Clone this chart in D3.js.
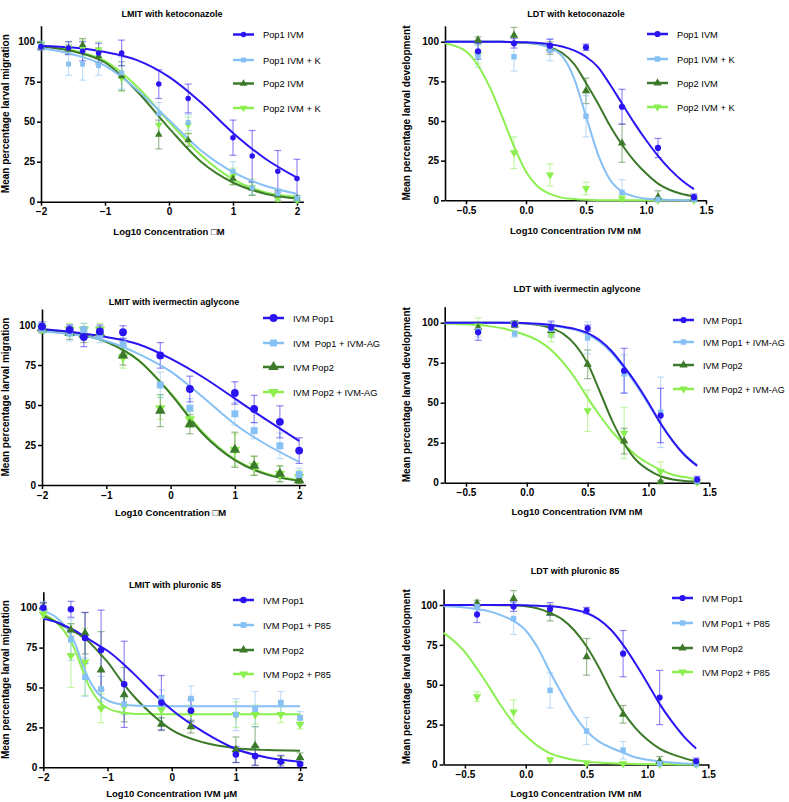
<!DOCTYPE html>
<html><head><meta charset="utf-8">
<script src="https://cdn.jsdelivr.net/npm/d3@7"></script>
<style>
body{margin:0;background:#fff}
svg{display:block}
text{font-family:"Liberation Sans",Arial,Helvetica,sans-serif}
</style>
</head><body>
<svg id="c" width="789" height="802"></svg>
<script>
// ---------- data ----------
const lmitDose = [-2, -1.57, -1.35, -1.1, -0.74, -0.16, 0.3, 1, 1.3, 1.7, 2];
const ldtDose = [-0.4, -0.1, 0.2, 0.5, 0.8, 1.1, 1.4];
const lmitGrid = [-2, -1.5, -1, -0.5, 0, 0.5, 1, 1.5, 2];
const lmitGridFine = [-2, -1.8, -1.6, -1.5, -1.4, -1.3, -1.2, -1.1, -1, -0.8, -0.6, -0.3, 0, 0.5, 1, 1.5, 2];
const ldtGrid = [-0.675, -0.6, -0.5, -0.4, -0.3, -0.2, -0.1, 0, 0.1, 0.2, 0.3, 0.4, 0.5, 0.6, 0.7, 0.8, 0.9, 1.0, 1.1, 1.2, 1.3, 1.4];
const lmitTicks = [-2, -1, 0, 1, 2];
const ldtTicks = [-0.5, 0, 0.5, 1, 1.5];
const yTicks = [0, 25, 50, 75, 100];

const titles = ['LMIT with ketoconazole', 'LDT with ketoconazole', 'LMIT with ivermectin aglycone',
  'LDT with ivermectin aglycone', 'LMIT with pluronic 85', 'LDT with pluronic 85'];
const xLabels = ['Log10 Concentration \u25A1M', 'Log10 Concentration IVM nM', 'Log10 Concentration \u25A1M',
  'Log10 Concentration IVM nM', 'Log10 Concentration IVM \u03BCM', 'Log10 Concentration IVM nM'];
const yLabelLMIT = 'Mean percentage larval migration';
const yLabelLDT = 'Mean percentage larval development';
const namesKeto = ['Pop1 IVM', 'Pop1 IVM + K', 'Pop2 IVM', 'Pop2 IVM + K'];
const namesAgLmit = ['IVM Pop1', 'IVM  Pop1 + IVM-AG', 'IVM Pop2', 'IVM Pop2 + IVM-AG'];
const namesAgLdt = ['IVM Pop1', 'IVM Pop1 + IVM-AG', 'IVM Pop2', 'IVM Pop2 + IVM-AG'];
const namesP85 = ['IVM Pop1', 'IVM Pop1 + P85', 'IVM Pop2', 'IVM Pop2 + P85'];

// Panel A: LMIT ketoconazole
const A_pop1 = [97, 96, 94, 93, 93, 73.5, 64.5, 40, 28.5, 19, 14.5];
const A_pop1Err = [2, 4, 6, 6, 8, 9, 9, 11, 16, 13, 12];
const A_pop1K = [97.5, 86, 86, 85, 80.5, 55, 49.5, 19, 8.5, 5, 2];
const A_pop1KErr = [3, 7, 10, 6, 10, 7, 5, 6, 4, 3, 2];
const A_pop2 = [97, 95, 98, 91, 78.5, 42, 38.5, 14.5, 8, 4, 2];
const A_pop2Err = [2, 3, 4, 5, 9, 9, 4, 4, 4, 3, 2];
const A_pop2K = [98, 96, 96, 95, 77, 48, 48, 16, 9, 2, 1];
const A_pop2KErr = [2, 4, 5, 5, 8, 6, 5, 5, 5, 3, 2];
const A_pop1Fit = [97.5, 96.3, 93.5, 88.5, 78, 62, 43, 27, 15];
const A_pop1KFit = [96, 92, 85, 70, 51, 32, 18.5, 10, 5];
const A_pop2Fit = [97, 94, 87, 69, 46, 25, 12, 5, 2];
const A_pop2KFit = [97, 94.5, 88, 72, 50, 29, 14, 6, 3];

// Panel B: LDT ketoconazole
const B_pop1 = [94, 99, 97.5, 96.5, 59, 33, 2];
const B_pop1Err = [5, 3, 4, 2, 11, 6, 2];
const B_pop1K = [91, 90.5, 95, 53, 5, 0.5, 0.5];
const B_pop1KErr = [7, 9, 7, 13, 8, 1, 1];
const B_pop2 = [101, 104, 96, 69, 36, 2, 1];
const B_pop2Err = [2, 5, 4, 8, 12, 4, 2];
const B_pop2K = [92, 30, 16, 7.5, 1, 0, 0];
const B_pop2KErr = [6, 10, 7, 4, 2, 1, 1];
const B_pop1Fit = [100, 100, 100, 100, 100, 99.9, 99.8, 99.6, 99.2, 98.4, 97, 94.5, 90.5, 84, 73, 61, 49, 38, 28, 19.5, 12.5, 7];
const B_pop1KFit = [100, 100, 100, 100, 100, 100, 99.8, 99.5, 98.5, 96, 91, 77, 53, 29, 13, 5.5, 2.5, 1, 0.5, 0.2, 0.1, 0];
const B_pop2Fit = [100, 100, 100, 100, 100, 99.9, 99.7, 99.3, 98.5, 96.5, 93, 86, 74, 61, 47, 35, 25, 17, 10.5, 6.5, 4, 2.5];
const B_pop2KFit = [99, 97.5, 94, 85, 71, 53, 34, 18, 8.5, 4, 1.7, 0.8, 0.3, 0.1, 0.1, 0, 0, 0, 0, 0, 0, 0];

// Panel C: LMIT ivermectin aglycone
const C_pop1 = [99, 97, 92.5, 96, 95.5, 81, 60, 57.5, 47.5, 39.5, 21.5];
const C_pop1Err = [3, 3, 6, 4, 4, 8, 8, 7, 8.5, 10, 8];
const C_pop1AG = [98, 95, 97, 94, 88, 62.5, 48, 44.5, 34, 24.5, 6.5];
const C_pop1AGErr = [3, 5, 4, 5, 4, 8, 6, 7, 5, 8, 4];
const C_pop2 = [98, 95, 94, 95, 81, 46.5, 38, 22, 12, 7, 3];
const C_pop2Err = [3, 4, 5, 4, 6, 10, 6, 11, 6, 5, 2];
const C_pop2AG = [98, 97, 97, 97, 80, 48, 41, 22, 12, 7, 5];
const C_pop2AGErr = [3, 4, 4, 4, 7, 7, 5, 10, 6, 5, 4];
const C_pop1Fit = [97.5, 95.5, 92.5, 88, 79, 67.5, 54, 40.5, 27.5];
const C_pop1AGFit = [96, 94, 90, 82, 71, 55, 38, 25, 14.5];
const C_pop2Fit = [97, 95, 89.5, 78, 57, 32, 15.5, 6.5, 2.7];
const C_pop2AGFit = [96.5, 94.5, 89.5, 78, 57.5, 33, 16, 7, 3];

// Panel D: LDT ivermectin aglycone
const D_pop1 = [94, 99, 97, 96.5, 70, 42, 2];
const D_pop1Err = [5, 2, 4, 2, 14, 17, 2];
const D_pop1AG = [95, 93, 96, 90.5, 68, 44, 1];
const D_pop1AGErr = [4, 2, 4, 10, 12, 22, 2];
const D_pop2 = [97, 99, 95, 74, 26, 0.5, 0.5];
const D_pop2Err = [3, 2, 4, 9, 8, 1, 1];
const D_pop2AG = [98, 99, 93, 45, 31, 7, 0.5];
const D_pop2AGErr = [5, 2, 5, 13, 16, 6, 1];
const D_pop1Fit = [100, 100, 100, 100, 100, 100, 99.9, 99.7, 99.3, 98.5, 97.5, 96, 93.5, 89, 82, 72.5, 62, 50, 37, 26, 17, 10.5];
const D_pop1AGFit = [100, 100, 100, 100, 100, 100, 99.9, 99.6, 99.1, 98.2, 97, 95.5, 92.5, 88, 81, 71.5, 61, 49, 37, 26, 17.5, 11];
const D_pop2Fit = [100, 100, 100, 100, 100, 99.9, 99.8, 99.5, 98.5, 96.5, 93, 86, 74.5, 57, 39, 24.5, 14, 8, 4, 2, 1, 0.6];
const D_pop2AGFit = [99.5, 99.3, 99, 98.5, 97.7, 96.5, 94.5, 92, 88.5, 83, 75, 65, 53, 42, 32, 24, 17, 12, 8, 5, 3.5, 2];

// Panel E: LMIT pluronic 85
const E_pop1 = [100, 99, 81, 73.5, 52, 40.5, 35.5, 8, 7, 3.5, 2];
const E_pop1Err = [3, 5, 16, 25, 27, 17, 7, 5, 6, 4, 1];
const E_pop1P = [100, 80, 56.5, 49, 39.5, 43.5, 43, 33, 36.5, 40.5, 31];
const E_pop1PErr = [4, 13, 12, 8, 6, 5, 8, 10, 11, 7, 4];
const E_pop2 = [100, 86, 84, 61, 45.5, 27, 25.5, 11, 13.5, 4, 6];
const E_pop2Err = [3, 4, 13, 24, 17, 4, 4, 8, 12, 3, 3];
const E_pop2P = [96, 70, 66, 37, 38, 36, 34, 33, 33, 33, 27];
const E_pop2PErr = [3, 20, 21, 9, 5, 5, 5, 8, 6, 5, 3];
const E_pop1Fit = [93, 91, 87.5, 85.5, 83, 80.5, 78, 75.5, 73, 66.5, 59, 47, 36, 22, 11.5, 6, 3.5];
const E_pop1PFit = [98, 94, 85, 77, 66, 56, 49, 44.5, 42, 39.5, 38.7, 38.4, 38.3, 38.3, 38.3, 38.3, 38.3];
const E_pop2Fit = [95, 91, 86.5, 84.5, 82, 79, 75, 70.5, 66, 55, 45, 33, 23.5, 15.5, 12, 10.8, 10.4];
const E_pop2PFit = [96, 91, 81, 73, 62, 52, 45, 40, 37, 34.5, 33.6, 33.3, 33.2, 33.2, 33.2, 33.2, 33.2];

// Panel F: LDT pluronic 85
const F_pop1 = [94, 99, 97.5, 96.5, 69.5, 42, 2];
const F_pop1Err = [5, 3, 4, 2, 14.5, 17, 2];
const F_pop1P = [99, 91.5, 46.5, 21, 9, 0.5, 0];
const F_pop1PErr = [3, 10, 11, 8.5, 5.5, 1, 1];
const F_pop2 = [101, 104, 95, 67.5, 31.5, 2, 1];
const F_pop2Err = [2, 5, 5, 11.5, 5.5, 3, 2];
const F_pop2P = [42.5, 33, 3, 1, 0.5, 0, 0];
const F_pop2PErr = [3, 7.5, 1, 1, 1, 0.5, 0.5];
const F_pop1Fit = [100, 100, 100, 100, 100, 100, 100, 99.8, 99.6, 99.2, 98.4, 97, 95, 91, 84.5, 75, 63.5, 51, 38, 27, 17.5, 10];
const F_pop1PFit = [99.3, 99, 98.5, 97.5, 96, 93.5, 90, 84, 73, 58, 44, 31, 21, 14.5, 10.5, 7.5, 4.5, 3, 2, 1.2, 0.7, 0.4];
const F_pop2Fit = [100, 100, 100, 100, 100, 99.9, 99.7, 99.2, 97.8, 95, 91, 84, 74, 61, 46, 33, 23, 15.5, 10, 6.5, 4, 2];
const F_pop2PFit = [82.5, 78, 70.5, 60, 48.5, 36.5, 26, 18, 11.5, 7, 4.5, 2.8, 1.8, 1.2, 0.8, 0.5, 0.3, 0.2, 0.1, 0.1, 0, 0];

// ---------- styles / layout ----------
const colors = ['#2B14F2', '#86C0F5', '#3C7A2A', '#8BEF4F'];
const symbols = [d3.symbolCircle, d3.symbolSquare, d3.symbolTriangle, d3.symbolTriangle];
const rotations = [0, 0, 0, 180];

const panels = [
  {title: titles[0], xLabel: xLabels[0], yLabel: yLabelLMIT, ticks: lmitTicks, fmt: d3.format('d'), dose: lmitDose, grid: lmitGrid,
   names: namesKeto, means: [A_pop1, A_pop1K, A_pop2, A_pop2K], errs: [A_pop1Err, A_pop1KErr, A_pop2Err, A_pop2KErr],
   fits: [A_pop1Fit, A_pop1KFit, A_pop2Fit, A_pop2KFit],
   xd: [-2, 2.1], xr: [41, 303.4], y0: 201.7, y100: 41.7, titleX: 172, titleY: 16.5, xLabY: 234.5, yLabX: 9,
   legX: 233, legRows: [34.5, 60, 83.5, 108], msize: 24, legW: 2.5, legFont: 9.3},
  {title: titles[1], xLabel: xLabels[1], yLabel: yLabelLDT, ticks: ldtTicks, fmt: d3.format('.1f'), dose: ldtDose, grid: ldtGrid,
   names: namesKeto, means: [B_pop1, B_pop1K, B_pop2, B_pop2K], errs: [B_pop1Err, B_pop1KErr, B_pop2Err, B_pop2KErr],
   fits: [B_pop1Fit, B_pop1KFit, B_pop2Fit, B_pop2KFit],
   xd: [-0.675, 1.5], xr: [445, 706], y0: 200.3, y100: 41.7, titleX: 576, titleY: 16.5, xLabY: 233.5, yLabX: 409.5,
   legX: 647, legRows: [34, 59, 83, 107], msize: 30, legW: 2.5, legFont: 9.3},
  {title: titles[2], xLabel: xLabels[2], yLabel: yLabelLMIT, ticks: lmitTicks, fmt: d3.format('d'), dose: lmitDose, grid: lmitGrid,
   names: namesAgLmit, means: [C_pop1, C_pop1AG, C_pop2, C_pop2AG], errs: [C_pop1Err, C_pop1AGErr, C_pop2Err, C_pop2AGErr],
   fits: [C_pop1Fit, C_pop1AGFit, C_pop2Fit, C_pop2AGFit],
   xd: [-2, 2.1], xr: [42, 305.6], y0: 485, y100: 325, titleX: 174, titleY: 305, xLabY: 515.5, yLabX: 9,
   legX: 263, legRows: [318, 343, 367, 392], msize: 48, legW: 2.5, legFont: 9.3},
  {title: titles[3], xLabel: xLabels[3], yLabel: yLabelLDT, ticks: ldtTicks, fmt: d3.format('.1f'), dose: ldtDose, grid: ldtGrid,
   names: namesAgLdt, means: [D_pop1, D_pop1AG, D_pop2, D_pop2AG], errs: [D_pop1Err, D_pop1AGErr, D_pop2Err, D_pop2AGErr],
   fits: [D_pop1Fit, D_pop1AGFit, D_pop2Fit, D_pop2AGFit],
   xd: [-0.675, 1.5], xr: [444.7, 709.3], y0: 482.7, y100: 322.7, titleX: 577, titleY: 291.5, xLabY: 514.5, yLabX: 409.5,
   legX: 673, legRows: [320, 342, 365, 389], msize: 30, legW: 2.5, legFont: 9},
  {title: titles[4], xLabel: xLabels[4], yLabel: yLabelLMIT, ticks: lmitTicks, fmt: d3.format('d'), dose: lmitDose, grid: lmitGridFine,
   names: namesP85, means: [E_pop1, E_pop1P, E_pop2, E_pop2P], errs: [E_pop1Err, E_pop1PErr, E_pop2Err, E_pop2PErr],
   fits: [E_pop1Fit, E_pop1PFit, E_pop2Fit, E_pop2PFit],
   xd: [-2, 2.1], xr: [43.3, 306.5], y0: 767.3, y100: 607.7, titleX: 175, titleY: 587.5, xLabY: 796.5, yLabX: 9,
   legX: 233, legRows: [600, 625, 650, 674], msize: 34, legW: 2.5, legFont: 9.3},
  {title: titles[5], xLabel: xLabels[5], yLabel: yLabelLDT, ticks: ldtTicks, fmt: d3.format('.1f'), dose: ldtDose, grid: ldtGrid,
   names: namesP85, means: [F_pop1, F_pop1P, F_pop2, F_pop2P], errs: [F_pop1Err, F_pop1PErr, F_pop2Err, F_pop2PErr],
   fits: [F_pop1Fit, F_pop1PFit, F_pop2Fit, F_pop2PFit],
   xd: [-0.675, 1.5], xr: [443.6, 708.3], y0: 764.5, y100: 605, titleX: 575, titleY: 573.5, xLabY: 796.5, yLabX: 409.5,
   legX: 672, legRows: [598, 623, 648, 672], msize: 30, legW: 2.5, legFont: 9.3}
];

const svg = d3.select('#c');

function symPath(i, size) {
  return d3.symbol().type(symbols[i]).size(size)();
}

panels.forEach(p => {
  const g = svg.append('g');
  const x = d3.scaleLinear().domain(p.xd).range(p.xr);
  const yTopPx = p.y0 - 1.1 * (p.y0 - p.y100);
  const y = d3.scaleLinear().domain([0, 110]).range([p.y0, yTopPx]);

  // axes
  const xAxis = d3.axisBottom(x).tickValues(p.ticks).tickFormat(p.fmt).tickSize(4).tickSizeOuter(0);
  const yAxis = d3.axisLeft(y).tickValues(yTicks).tickSize(4).tickSizeOuter(0);
  const gx = g.append('g').attr('transform', `translate(0,${p.y0})`).call(xAxis);
  const gy = g.append('g').attr('transform', `translate(${p.xr[0]},0)`).call(yAxis);
  [gx, gy].forEach(a => {
    a.select('.domain').attr('stroke', '#000').attr('stroke-width', 1.6);
    a.selectAll('.tick line').attr('stroke', '#000').attr('stroke-width', 1.5);
    a.selectAll('.tick text').attr('fill', '#000').style('font-size', '10px').style('font-weight', 'bold')
      .style('font-family', '"Liberation Sans",Arial,sans-serif');
  });
  gx.selectAll('.tick text').attr('dy', '0.85em').attr('y', 5);
  gy.selectAll('.tick text').attr('x', -6);

  // titles and labels
  g.append('text').attr('x', p.titleX).attr('y', p.titleY).attr('text-anchor', 'middle')
    .style('font-size', '9px').style('font-weight', 'bold').text(p.title);
  g.append('text').attr('x', (p.xr[0] + x(p.ticks[p.ticks.length - 1])) / 2).attr('y', p.xLabY).attr('text-anchor', 'middle')
    .style('font-size', '9.5px').style('font-weight', 'bold').text(p.xLabel);
  g.append('text').attr('transform', `translate(${p.yLabX},${(p.y0 + yTopPx) / 2}) rotate(-90)`).attr('text-anchor', 'middle')
    .style('font-size', '10px').style('font-weight', 'bold').text(p.yLabel);

  const line = d3.line().x((d, i) => x(p.grid[i])).y(d => y(d)).curve(d3.curveMonotoneX);

  const order = [3, 2, 1, 0];
  // error bars
  order.forEach(s => {
    const eg = g.append('g').attr('stroke', colors[s]).attr('stroke-opacity', 0.5).attr('stroke-width', 1.2).attr('fill', 'none');
    p.means[s].forEach((m, i) => {
      const e = p.errs[s][i];
      const cx = x(p.dose[i]);
      const lo = y(Math.max(0, m - e)), hi = y(m + e);
      eg.append('line').attr('x1', cx).attr('x2', cx).attr('y1', lo).attr('y2', hi);
      eg.append('line').attr('x1', cx - 3.5).attr('x2', cx + 3.5).attr('y1', lo).attr('y2', lo);
      eg.append('line').attr('x1', cx - 3.5).attr('x2', cx + 3.5).attr('y1', hi).attr('y2', hi);
    });
  });
  // fitted curves
  order.forEach(s => {
    g.append('path').datum(p.fits[s]).attr('d', line).attr('fill', 'none')
      .attr('stroke', colors[s]).attr('stroke-width', 2);
  });
  // markers
  order.forEach(s => {
    g.append('g').selectAll('path').data(p.means[s]).join('path')
      .attr('d', symPath(s, p.msize))
      .attr('transform', (d, i) => `translate(${x(p.dose[i])},${y(d)}) rotate(${rotations[s]})`)
      .attr('fill', colors[s]);
  });

  // legend
  p.names.forEach((nm, s) => {
    const ly = p.legRows[s];
    g.append('line').attr('x1', p.legX).attr('x2', p.legX + 21).attr('y1', ly).attr('y2', ly)
      .attr('stroke', colors[s]).attr('stroke-width', p.legW);
    g.append('path').attr('d', symPath(s, p.msize))
      .attr('transform', `translate(${p.legX + 10.5},${ly}) rotate(${rotations[s]})`).attr('fill', colors[s]);
    g.append('text').attr('x', p.legX + 30).attr('y', ly + 3.5).style('font-size', p.legFont + 'px')
      .style('white-space', 'pre').attr('xml:space', 'preserve').text(nm);
  });
});
</script>
</body></html>
